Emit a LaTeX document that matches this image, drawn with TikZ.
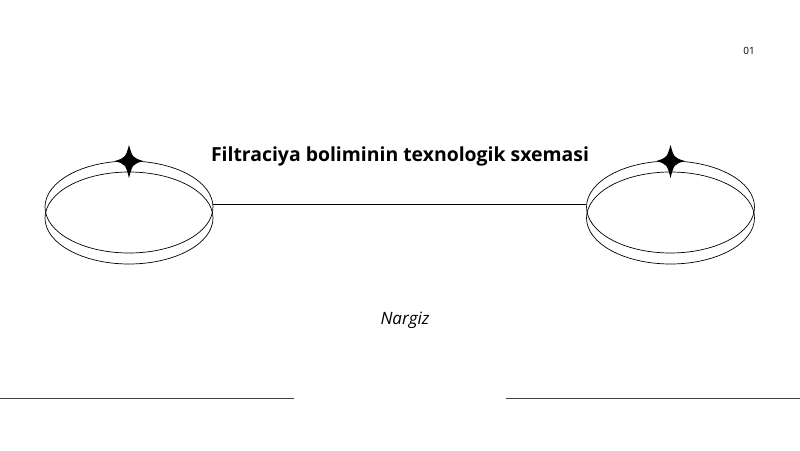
\documentclass[tikz,border=0pt]{standalone}
\usepackage{fontspec}
\setmainfont{Open Sans}
\usetikzlibrary{shapes.geometric}
\tikzstyle{ring}=[draw, ellipse, line width=0.7pt, minimum width=168pt, minimum height=92pt, inner sep=0pt]
\tikzstyle{rule}=[line width=0.9pt, black!75]
\newcommand{\sparkle}[1]{\fill[shift={#1}] (0,-16) .. controls (3.5,-3.5) .. (14,0) .. controls (3.5,3.5) .. (0,17) .. controls (-3.5,3.5) .. (-14,0) .. controls (-3.5,-3.5) .. cycle;}

\begin{document}
\begin{tikzpicture}[x=1pt, y=-1pt]
  \useasboundingbox[fill=white] (0,0) rectangle (800,450);
  \node[ring] (upL) at (129,207) {};
  \node[ring] (lowL) at (129,218) {};
  \node[ring] (upR) at (670.5,207) {};
  \node[ring] (lowR) at (670.5,218) {};
  \sparkle{(129,161)}
  \sparkle{(670.5,161)}
  \draw[line width=0.7pt] ([yshift=3pt]upL.east) -- ([yshift=3pt]upR.west);
  \node[font=\bfseries\fontsize{19.4}{22}\selectfont] (title) at (400,156) {Filtraciya boliminin texnologik sxemasi};
  \node[font=\itshape\fontsize{17}{20}\selectfont] (author) at (405,320) {Nargiz};
  \node[font=\fontsize{10}{12}\selectfont] (page) at (749,51) {01};
  \coordinate (ruleL0) at (0,398);
  \coordinate (ruleL1) at (294,398);
  \coordinate (ruleR0) at (506,398);
  \coordinate (ruleR1) at (800,398);
  \draw[rule] (ruleL0) -- (ruleL1);
  \draw[rule] (ruleR0) -- (ruleR1);
\end{tikzpicture}
\end{document}
